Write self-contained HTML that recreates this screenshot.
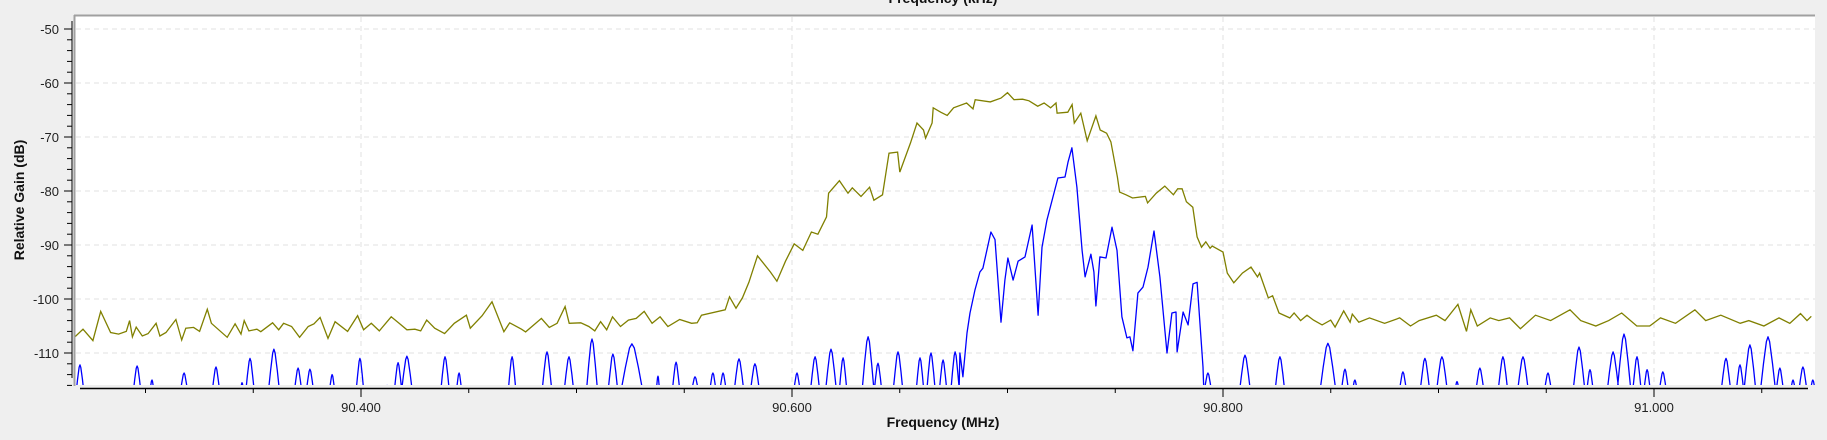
<!DOCTYPE html>
<html><head><meta charset="utf-8"><style>
html,body{margin:0;padding:0;background:#efefef;}
svg{display:block;font-family:"Liberation Sans",sans-serif;}
</style></head><body>
<svg id="chart" width="1827" height="440" viewBox="0 0 1827 440" xmlns="http://www.w3.org/2000/svg">
<rect x="0" y="0" width="1827" height="440" fill="#efefef"/>
<rect x="75" y="16" width="1740" height="369" fill="#ffffff"/>
<g id="grid"></g>
<defs><clipPath id="clip"><rect x="75" y="16" width="1740" height="369"/></clipPath></defs>
<g id="series" clip-path="url(#clip)"></g>
<line x1="74.5" y1="15" x2="74.5" y2="386" stroke="#a0a0a0" stroke-width="2"/>
<line x1="74" y1="15.5" x2="1815" y2="15.5" stroke="#a0a0a0" stroke-width="2"/>
<g id="yaxis"></g>
<g id="xaxis"></g>
<text x="943" y="3" text-anchor="middle" font-size="14" font-weight="bold" fill="#111">Frequency (kHz)</text>
<text x="943" y="427" text-anchor="middle" font-size="14" font-weight="bold" fill="#111">Frequency (MHz)</text>
<text x="0" y="0" transform="translate(24,200) rotate(-90)" text-anchor="middle" font-size="14" font-weight="bold" fill="#111">Relative Gain (dB)</text>
</svg>
<script>
const yTickValues = [-50,-60,-70,-80,-90,-100,-110];
const xTickValues = [90.4,90.6,90.8,91.0];
const xTickLabels = ["90.400","90.600","90.800","91.000"];
const xMinorTicks = [90.3,90.35,90.45,90.5,90.55,90.65,90.7,90.75,90.85,90.9,90.95,91.05];
const avgFreq = [90.2673,90.2710,90.2756,90.2792,90.2838,90.2875,90.2911,90.2926,90.2939,90.2957,90.2985,90.3012,90.3049,90.3067,90.3095,90.3141,90.3168,90.3187,90.3223,90.3251,90.3287,90.3306,90.3379,90.3416,90.3443,90.3458,90.3480,90.3517,90.3535,90.3590,90.3618,90.3641,90.3678,90.3715,90.3755,90.3782,90.3810,90.3847,90.3880,90.3938,90.3984,90.4012,90.4048,90.4085,90.4140,90.4177,90.4213,90.4250,90.4277,90.4305,90.4342,90.4388,90.4433,90.4489,90.4507,90.4562,90.4608,90.4663,90.4690,90.4745,90.4764,90.4837,90.4874,90.4910,90.4947,90.4966,90.5020,90.5057,90.5085,90.5112,90.5140,90.5167,90.5204,90.5241,90.5277,90.5314,90.5351,90.5388,90.5424,90.5479,90.5534,90.556,90.558,90.569,90.571,90.574,90.577,90.580,90.584,90.590,90.593,90.597,90.601,90.605,90.609,90.612,90.616,90.617,90.622,90.626,90.628,90.632,90.636,90.638,90.642,90.645,90.649,90.650,90.655,90.658,90.661,90.662,90.665,90.6655,90.669,90.672,90.675,90.681,90.684,90.685,90.692,90.697,90.700,90.703,90.707,90.710,90.714,90.717,90.720,90.7225,90.723,90.728,90.730,90.731,90.734,90.737,90.741,90.743,90.746,90.748,90.751,90.752,90.755,90.758,90.764,90.765,90.769,90.773,90.777,90.779,90.781,90.783,90.786,90.788,90.790,90.792,90.794,90.795,90.800,90.802,90.805,90.809,90.813,90.816,90.817,90.821,90.823,90.826,90.831,90.833,90.836,90.839,90.842,90.846,90.850,90.852,90.856,90.859,90.860,90.863,90.868,90.875,90.882,90.887,90.891,90.899,90.903,90.909,90.913,90.915,90.918,90.924,90.928,90.933,90.938,90.945,90.952,90.961,90.966,90.973,90.979,90.985,90.992,90.998,91.003,91.010,91.019,91.024,91.031,91.040,91.044,91.051,91.058,91.063,91.068,91.071,91.073];
const avgDb = [-107.0,-105.6,-107.7,-102.3,-106.2,-106.5,-106.0,-104.0,-107.0,-105.2,-106.85,-106.4,-104.5,-106.85,-106.2,-103.8,-107.6,-105.4,-105.25,-106.0,-101.9,-104.5,-107.1,-104.6,-106.5,-104.0,-105.9,-105.6,-106.05,-104.4,-105.7,-104.5,-105.1,-107.1,-105.1,-104.6,-103.4,-107.3,-104.2,-106.0,-103.1,-105.7,-104.5,-105.9,-103.3,-104.5,-105.7,-105.6,-105.9,-103.9,-105.4,-106.4,-104.5,-103.0,-105.4,-103.1,-100.5,-106.05,-104.4,-105.6,-106.1,-103.6,-105.25,-104.5,-101.4,-104.5,-104.4,-105.1,-105.9,-104.2,-105.7,-103.3,-105.1,-103.9,-103.6,-102.3,-104.5,-103.3,-105.1,-103.8,-104.5,-104.4,-103,-102,-99.6,-101.7,-99.8,-96.9,-92,-95,-96.7,-93,-89.8,-91,-87.6,-88,-84.8,-80.4,-78.1,-80.4,-79.4,-81,-79.3,-81.7,-80.7,-73,-72.8,-76.5,-71.1,-67.4,-68.7,-70.2,-67.4,-64.6,-65.4,-66,-64.6,-63.7,-64.8,-63.1,-63.5,-62.8,-61.8,-63.1,-63,-63.3,-64.3,-63.7,-64.6,-63.7,-65.6,-65.4,-64,-67.4,-65.6,-70.7,-66.1,-68.7,-69.3,-70.9,-77.4,-80.2,-80.7,-81.3,-81,-82.2,-80.4,-79.1,-80.7,-79.6,-79.6,-82,-83,-88.5,-90.4,-89.4,-90.6,-90.2,-91.3,-95.2,-97,-95.2,-94.1,-95.9,-95.2,-99.8,-99.4,-102.6,-103.5,-102.6,-104,-103,-103.9,-104.8,-103.9,-105.2,-102.2,-104.3,-102.8,-104.3,-103.5,-104.5,-103.5,-105,-104,-103,-104,-101,-106,-102,-105,-103.5,-104,-103.5,-105.5,-103,-104,-102,-104,-105,-104,-102.6,-105,-105,-103.5,-104.5,-102,-104,-103,-104.5,-104,-105,-103.5,-104.5,-102.7,-104,-103.2];
const peakFreq = [90.2696,90.2961,90.3030,90.3179,90.3327,90.3448,90.3485,90.3596,90.3708,90.3763,90.3866,90.3995,90.4121,90.4172,90.4213,90.4390,90.4455,90.4701,90.4863,90.4965,90.5072,90.5169,90.5257,90.5378,90.5462,90.5550,90.5633,90.5680,90.5754,90.5828,90.6023,90.6107,90.6181,90.6237,90.6353,90.6399,90.6492,90.6594,90.6645,90.6701,90.6757,90.7930,90.8102,90.8264,90.8487,90.8566,90.8612,90.8835,90.8937,90.9016,90.9086,90.9192,90.9299,90.9392,90.9508,90.9652,90.9703,90.9810,90.9861,90.9921,90.9968,91.0041,91.0334,91.0399,91.0445,91.0529,91.0584,91.0645,91.0691,91.0737];
const peakDb = [-112.2,-112.4,-115,-113.7,-112.6,-115.5,-111,-109.3,-112.8,-113,-114,-111,-116,-111.8,-110.6,-110.7,-113.7,-110.7,-109.8,-110.7,-107.4,-110.2,-108.3,-114.3,-111.7,-114.4,-113.7,-113.7,-111.1,-112,-113.7,-110.7,-109.3,-110.9,-107,-111.9,-109.8,-110.9,-110,-111.3,-109.8,-113.7,-110.4,-110.7,-108.2,-113,-115,-113.5,-111,-110.7,-115.3,-112.8,-110.7,-110.7,-113.7,-108.9,-113.1,-109.8,-106.5,-110.7,-113.1,-113.5,-111,-112.2,-108.5,-107,-112.8,-115,-112.6,-115];
const peakHalfWidthMHz = [0.002,0.002,0.0012,0.002,0.002,0.001,0.0022,0.0028,0.002,0.002,0.0015,0.002,0.001,0.002,0.0028,0.0022,0.0015,0.002,0.0025,0.0025,0.0028,0.0025,0.0055,0.001,0.002,0.002,0.0018,0.0018,0.0025,0.0024,0.0018,0.0024,0.0028,0.002,0.003,0.002,0.0025,0.002,0.0022,0.002,0.0022,0.002,0.0028,0.0025,0.004,0.002,0.0015,0.002,0.0025,0.0028,0.0014,0.0022,0.0025,0.0028,0.002,0.003,0.0018,0.003,0.0034,0.0022,0.0018,0.002,0.0025,0.002,0.003,0.0038,0.002,0.0015,0.0022,0.0015];
const sigFreq = [90.6775,90.6779,90.6793,90.6812,90.6826,90.6849,90.6872,90.6886,90.6923,90.6942,90.6970,90.6988,90.7002,90.7026,90.7049,90.7081,90.7114,90.7142,90.7160,90.7183,90.7234,90.7267,90.7281,90.7299,90.7322,90.7346,90.7360,90.7387,90.7401,90.7410,90.7429,90.7457,90.7485,90.7508,90.7531,90.7554,90.7568,90.7582,90.7605,90.7629,90.7652,90.7680,90.7707,90.7740,90.7763,90.7782,90.7787,90.7815,90.7838,90.7861,90.7880,90.7907,90.7912];
const sigDb = [-118,-110,-114.4,-106.3,-102.6,-98.3,-95,-94.3,-87.6,-89,-104.3,-96.5,-92.4,-96.5,-93,-92.2,-86.3,-103,-90.4,-85.4,-77.6,-77.4,-74.6,-72,-79.3,-91,-95.9,-91.7,-95,-101.3,-92.2,-92.4,-86.7,-91,-103.3,-107.2,-107,-109.6,-98.9,-97.8,-94.1,-87.4,-95.9,-110,-102.6,-102.4,-109.8,-102.4,-104.8,-97.2,-96.9,-112.6,-118];

const NS = "http://www.w3.org/2000/svg";
function xScale(f){ return 361 + (f - 90.4) * 2155; }
function yScale(db){ return 29 + (-50 - db) * 5.4; }
function mk(tag, attrs, parent){ const e=document.createElementNS(NS,tag); for(const k in attrs) e.setAttribute(k,attrs[k]); parent.appendChild(e); return e; }

const grid = document.getElementById('grid');
yTickValues.forEach(v=>{
  const l = mk('line',{x1:76,x2:1815,y1:yScale(v),y2:yScale(v),stroke:'#e2e2e2','stroke-dasharray':'5,4'},grid);
  
  
});
xTickValues.forEach(v=>{
  const l = mk('line',{x1:xScale(v),x2:xScale(v),y1:17,y2:385,stroke:'#e2e2e2','stroke-dasharray':'5,4'},grid);
  
  
});

const yaxis = document.getElementById('yaxis');
mk('line',{x1:72,x2:72,y1:21,y2:378,stroke:'#000','stroke-width':1},yaxis);
for(let v=-50; v>=-116; v-=2){
  const major = (v % 10 === 0);
  const t = mk('line',{x1: major?64:67, x2:72, y1:yScale(v), y2:yScale(v), stroke:'#000'},yaxis);
  
  
}
yTickValues.forEach(v=>{
  const t = mk('text',{x:59,y:yScale(v)+5,'text-anchor':'end','font-size':13,fill:'#222'},yaxis);
  t.textContent = String(v);
  
  
});

const xaxis = document.getElementById('xaxis');
mk('line',{x1:80,x2:1808,y1:388.5,y2:388.5,stroke:'#000','stroke-width':1.5},xaxis);
xTickValues.forEach((v,i)=>{
  const t = mk('line',{x1:xScale(v),x2:xScale(v),y1:389,y2:397,stroke:'#000'},xaxis);
  
  
  const lb = mk('text',{x:xScale(v),y:412,'text-anchor':'middle','font-size':13,fill:'#222'},xaxis);
  lb.textContent = xTickLabels[i];
  
  
});
xMinorTicks.forEach(v=>{
  const t = mk('line',{x1:xScale(v),x2:xScale(v),y1:389,y2:393,stroke:'#000'},xaxis);
  
  
});

const series = document.getElementById('series');
let d = '';
function pt(f,db){ return xScale(f).toFixed(1)+','+yScale(db).toFixed(1); }
peakFreq.forEach((f,i)=>{
  const w = peakHalfWidthMHz[i], p = peakDb[i], r = p + 118;
  d += 'M'+pt(f-w,-118)+' L'+pt(f-0.55*w,p-0.45*r)+' L'+pt(f-0.2*w,p-0.08*r)+' L'+pt(f,p)+
       ' L'+pt(f+0.2*w,p-0.08*r)+' L'+pt(f+0.55*w,p-0.45*r)+' L'+pt(f+w,-118)+' ';
});
d += 'M' + sigFreq.map((f,i)=>pt(f,sigDb[i])).join(' L');
const blue = mk('path',{d:d,fill:'none',stroke:'#0000ff','stroke-width':1.3,'stroke-linejoin':'round'},series);



const avg = mk('polyline',{points:avgFreq.map((f,i)=>pt(f,avgDb[i])).join(' '),fill:'none',stroke:'#808000','stroke-width':1.3},series);


</script>
</body></html>
